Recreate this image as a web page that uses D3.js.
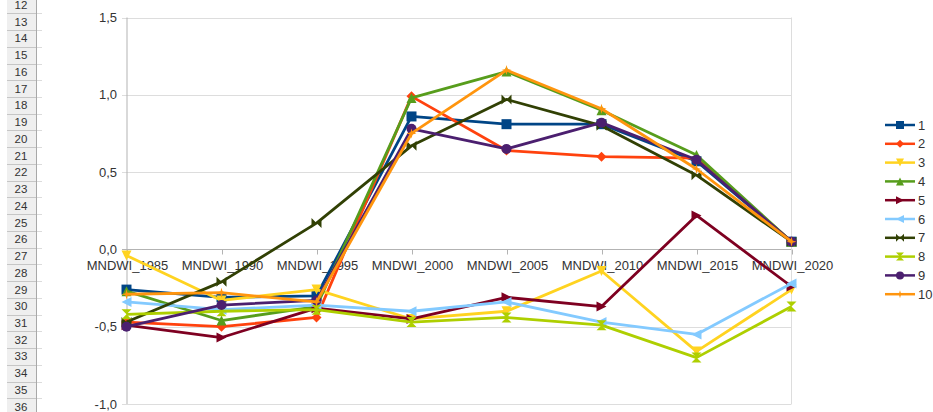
<!DOCTYPE html>
<html>
<head>
<meta charset="utf-8">
<script src="https://cdn.jsdelivr.net/npm/d3@7"></script>
<style>
  html, body { margin: 0; padding: 0; background: #fff; }
  svg { display: block; }
  text { font-family: "Liberation Sans", Arial, sans-serif; }
</style>
</head>
<body>
<svg id="chart" width="933" height="412"></svg>
<script>
// Categories along the x axis
const categories = ["MNDWI_1985", "MNDWI_1990", "MNDWI_1995", "MNDWI_2000",
                    "MNDWI_2005", "MNDWI_2010", "MNDWI_2015", "MNDWI_2020"];

// Series names and values per category
const seriesNames = ["1", "2", "3", "4", "5", "6", "7", "8", "9", "10"];
const s1  = [-0.26, -0.31, -0.30, 0.86, 0.81, 0.81, 0.57, 0.05];
const s2  = [-0.47, -0.50, -0.44, 0.99, 0.64, 0.60, 0.59, 0.05];
const s3  = [-0.04, -0.33, -0.26, -0.45, -0.40, -0.14, -0.66, -0.26];
const s4  = [-0.27, -0.46, -0.37, 0.98, 1.15, 0.90, 0.61, 0.05];
const s5  = [-0.49, -0.57, -0.38, -0.45, -0.31, -0.37, 0.22, -0.24];
const s6  = [-0.34, -0.39, -0.36, -0.40, -0.34, -0.47, -0.55, -0.22];
const s7  = [-0.47, -0.21, 0.17, 0.67, 0.97, 0.80, 0.48, 0.05];
const s8  = [-0.42, -0.40, -0.39, -0.47, -0.44, -0.49, -0.70, -0.37];
const s9  = [-0.50, -0.36, -0.33, 0.78, 0.65, 0.82, 0.58, 0.05];
const s10 = [-0.29, -0.28, -0.34, 0.75, 1.16, 0.91, 0.52, 0.05];
const seriesValues = [s1, s2, s3, s4, s5, s6, s7, s8, s9, s10];

// Y axis tick values and their labels (decimal comma)
const yTicks = [-1.0, -0.5, 0.0, 0.5, 1.0, 1.5];
const yTickLabels = ["-1,0", "-0,5", "0,0", "0,5", "1,0", "1,5"];

// Spreadsheet row numbers shown down the left edge
const rowNumbers = d3.range(12, 37);

const colors = ["#004586", "#ff420e", "#ffd320", "#579d1c", "#7e0021",
                "#83caff", "#314004", "#aecf00", "#4b1f6f", "#ff950e"];
const markerTypes = ["square", "diamond", "down", "up", "right", "left",
                     "bowtie", "hourglass", "circle", "star"];

const svg = d3.select("#chart");

// ---- row header strip ----
const rowH = 16.74, rowTop = -3.44;
const hdr = svg.append("g");
hdr.append("rect").attr("x", 7).attr("y", 0).attr("width", 29).attr("height", 412)
  .attr("fill", "#efefef");
hdr.append("line").attr("x1", 36.5).attr("x2", 36.5).attr("y1", 0).attr("y2", 412)
  .attr("stroke", "#a8a8a8").attr("stroke-width", 1);
rowNumbers.forEach((n, i) => {
  const yb = rowTop + (i + 1) * rowH;
  hdr.append("line").attr("x1", 7).attr("x2", 36).attr("y1", Math.round(yb) + 0.5).attr("y2", Math.round(yb) + 0.5)
    .attr("stroke", "#c6c6c6");
  hdr.append("line").attr("x1", 37).attr("x2", 42).attr("y1", Math.round(yb) + 0.5).attr("y2", Math.round(yb) + 0.5)
    .attr("stroke", "#dcdcdc");
  hdr.append("text").attr("x", 21).attr("y", rowTop + i * rowH + rowH / 2 + 4)
    .attr("text-anchor", "middle").attr("font-size", 11.5).attr("fill", "#333")
    .text(n);
});

// ---- scales ----
const x = d3.scalePoint().domain(categories).range([126.5, 791.5]).padding(0);
const y = d3.scaleLinear().domain([-1, 1.5]).range([404, 17.5]);

// ---- gridlines ----
const grid = svg.append("g");
grid.selectAll("line.h").data(yTicks).enter().append("line")
  .attr("x1", 122).attr("x2", 791.5)
  .attr("y1", d => Math.round(y(d)) + 0.5).attr("y2", d => Math.round(y(d)) + 0.5)
  .attr("stroke", d => d === 0 ? "#b3b3b3" : "#dddddd").attr("stroke-width", 1);
// plot walls
grid.append("line").attr("x1", 127).attr("x2", 127).attr("y1", y(1.5)).attr("y2", y(-1))
  .attr("stroke", "#b3b3b3");
grid.append("line").attr("x1", 791.5).attr("x2", 791.5).attr("y1", y(1.5)).attr("y2", y(-1))
  .attr("stroke", "#dddddd");

// ---- category axis at y = 0 ----
const xAxis = d3.axisBottom(x).tickSize(5).tickPadding(6);
const xg = svg.append("g").attr("transform", `translate(0.5,${Math.round(y(0)) + 0.5})`).call(xAxis);
xg.select(".domain").remove();
xg.selectAll(".tick line").attr("stroke", "#b3b3b3");
xg.selectAll(".tick text").attr("font-size", 13).attr("fill", "#333")
  .attr("font-family", "'Liberation Sans', Arial, sans-serif");

// ---- value axis labels ----
const yAxis = d3.axisLeft(y).tickValues(yTicks).tickSize(0).tickPadding(10)
  .tickFormat((d, i) => yTickLabels[i]);
const yg = svg.append("g").attr("transform", "translate(127,0)").call(yAxis);
yg.select(".domain").remove();
yg.selectAll(".tick text").attr("font-size", 13).attr("fill", "#333")
  .attr("font-family", "'Liberation Sans', Arial, sans-serif");

// ---- marker shapes ----
function markerPath(type, r) {
  const p = d3.path();
  switch (type) {
    case "square": p.rect(-r, -r, 2 * r, 2 * r); break;
    case "diamond": p.moveTo(0, -r); p.lineTo(r, 0); p.lineTo(0, r); p.lineTo(-r, 0); p.closePath(); break;
    case "down": p.moveTo(-r, -r); p.lineTo(r, -r); p.lineTo(0, r); p.closePath(); break;
    case "up": p.moveTo(-r, r); p.lineTo(r, r); p.lineTo(0, -r); p.closePath(); break;
    case "right": p.moveTo(-r, -r); p.lineTo(r, 0); p.lineTo(-r, r); p.closePath(); break;
    case "left": p.moveTo(r, -r); p.lineTo(-r, 0); p.lineTo(r, r); p.closePath(); break;
    case "bowtie":
      p.moveTo(-r, -r); p.lineTo(0, 0); p.lineTo(-r, r); p.closePath();
      p.moveTo(r, -r); p.lineTo(0, 0); p.lineTo(r, r); p.closePath(); break;
    case "hourglass":
      p.moveTo(-r, -r); p.lineTo(r, -r); p.lineTo(0, 0); p.closePath();
      p.moveTo(-r, r); p.lineTo(r, r); p.lineTo(0, 0); p.closePath(); break;
    case "circle": p.arc(0, 0, r, 0, 2 * Math.PI); break;
    case "star": {
      const t = r * 0.22;
      p.moveTo(0, -r); p.lineTo(t, -t); p.lineTo(r, 0); p.lineTo(t, t);
      p.lineTo(0, r); p.lineTo(-t, t); p.lineTo(-r, 0); p.lineTo(-t, -t); p.closePath();
      break;
    }
  }
  return p.toString();
}

// ---- series lines and markers ----
const line = d3.line().x((d, i) => x(categories[i])).y(d => y(d));
const plot = svg.append("g");
seriesValues.forEach((vals, si) => {
  const g = plot.append("g");
  g.append("path").datum(vals).attr("d", line)
    .attr("fill", "none").attr("stroke", colors[si]).attr("stroke-width", 2.8)
    .attr("stroke-linejoin", "round");
  g.selectAll("path.m").data(vals).enter().append("path")
    .attr("class", "m")
    .attr("transform", (d, i) => `translate(${x(categories[i])},${y(d)})`)
    .attr("d", markerPath(markerTypes[si], 5))
    .attr("fill", colors[si]);
});

// ---- legend ----
const legend = svg.append("g");
seriesNames.forEach((name, i) => {
  const ly = 125 + i * 18.8;
  legend.append("line").attr("x1", 885).attr("x2", 915).attr("y1", ly).attr("y2", ly)
    .attr("stroke", colors[i]).attr("stroke-width", 2.5);
  legend.append("path").attr("transform", `translate(900,${ly})`)
    .attr("d", markerPath(markerTypes[i], 4)).attr("fill", colors[i]);
  legend.append("text").attr("x", 918).attr("y", ly + 4.5)
    .attr("font-size", 13).attr("fill", "#333").text(name);
});
</script>
</body>
</html>
